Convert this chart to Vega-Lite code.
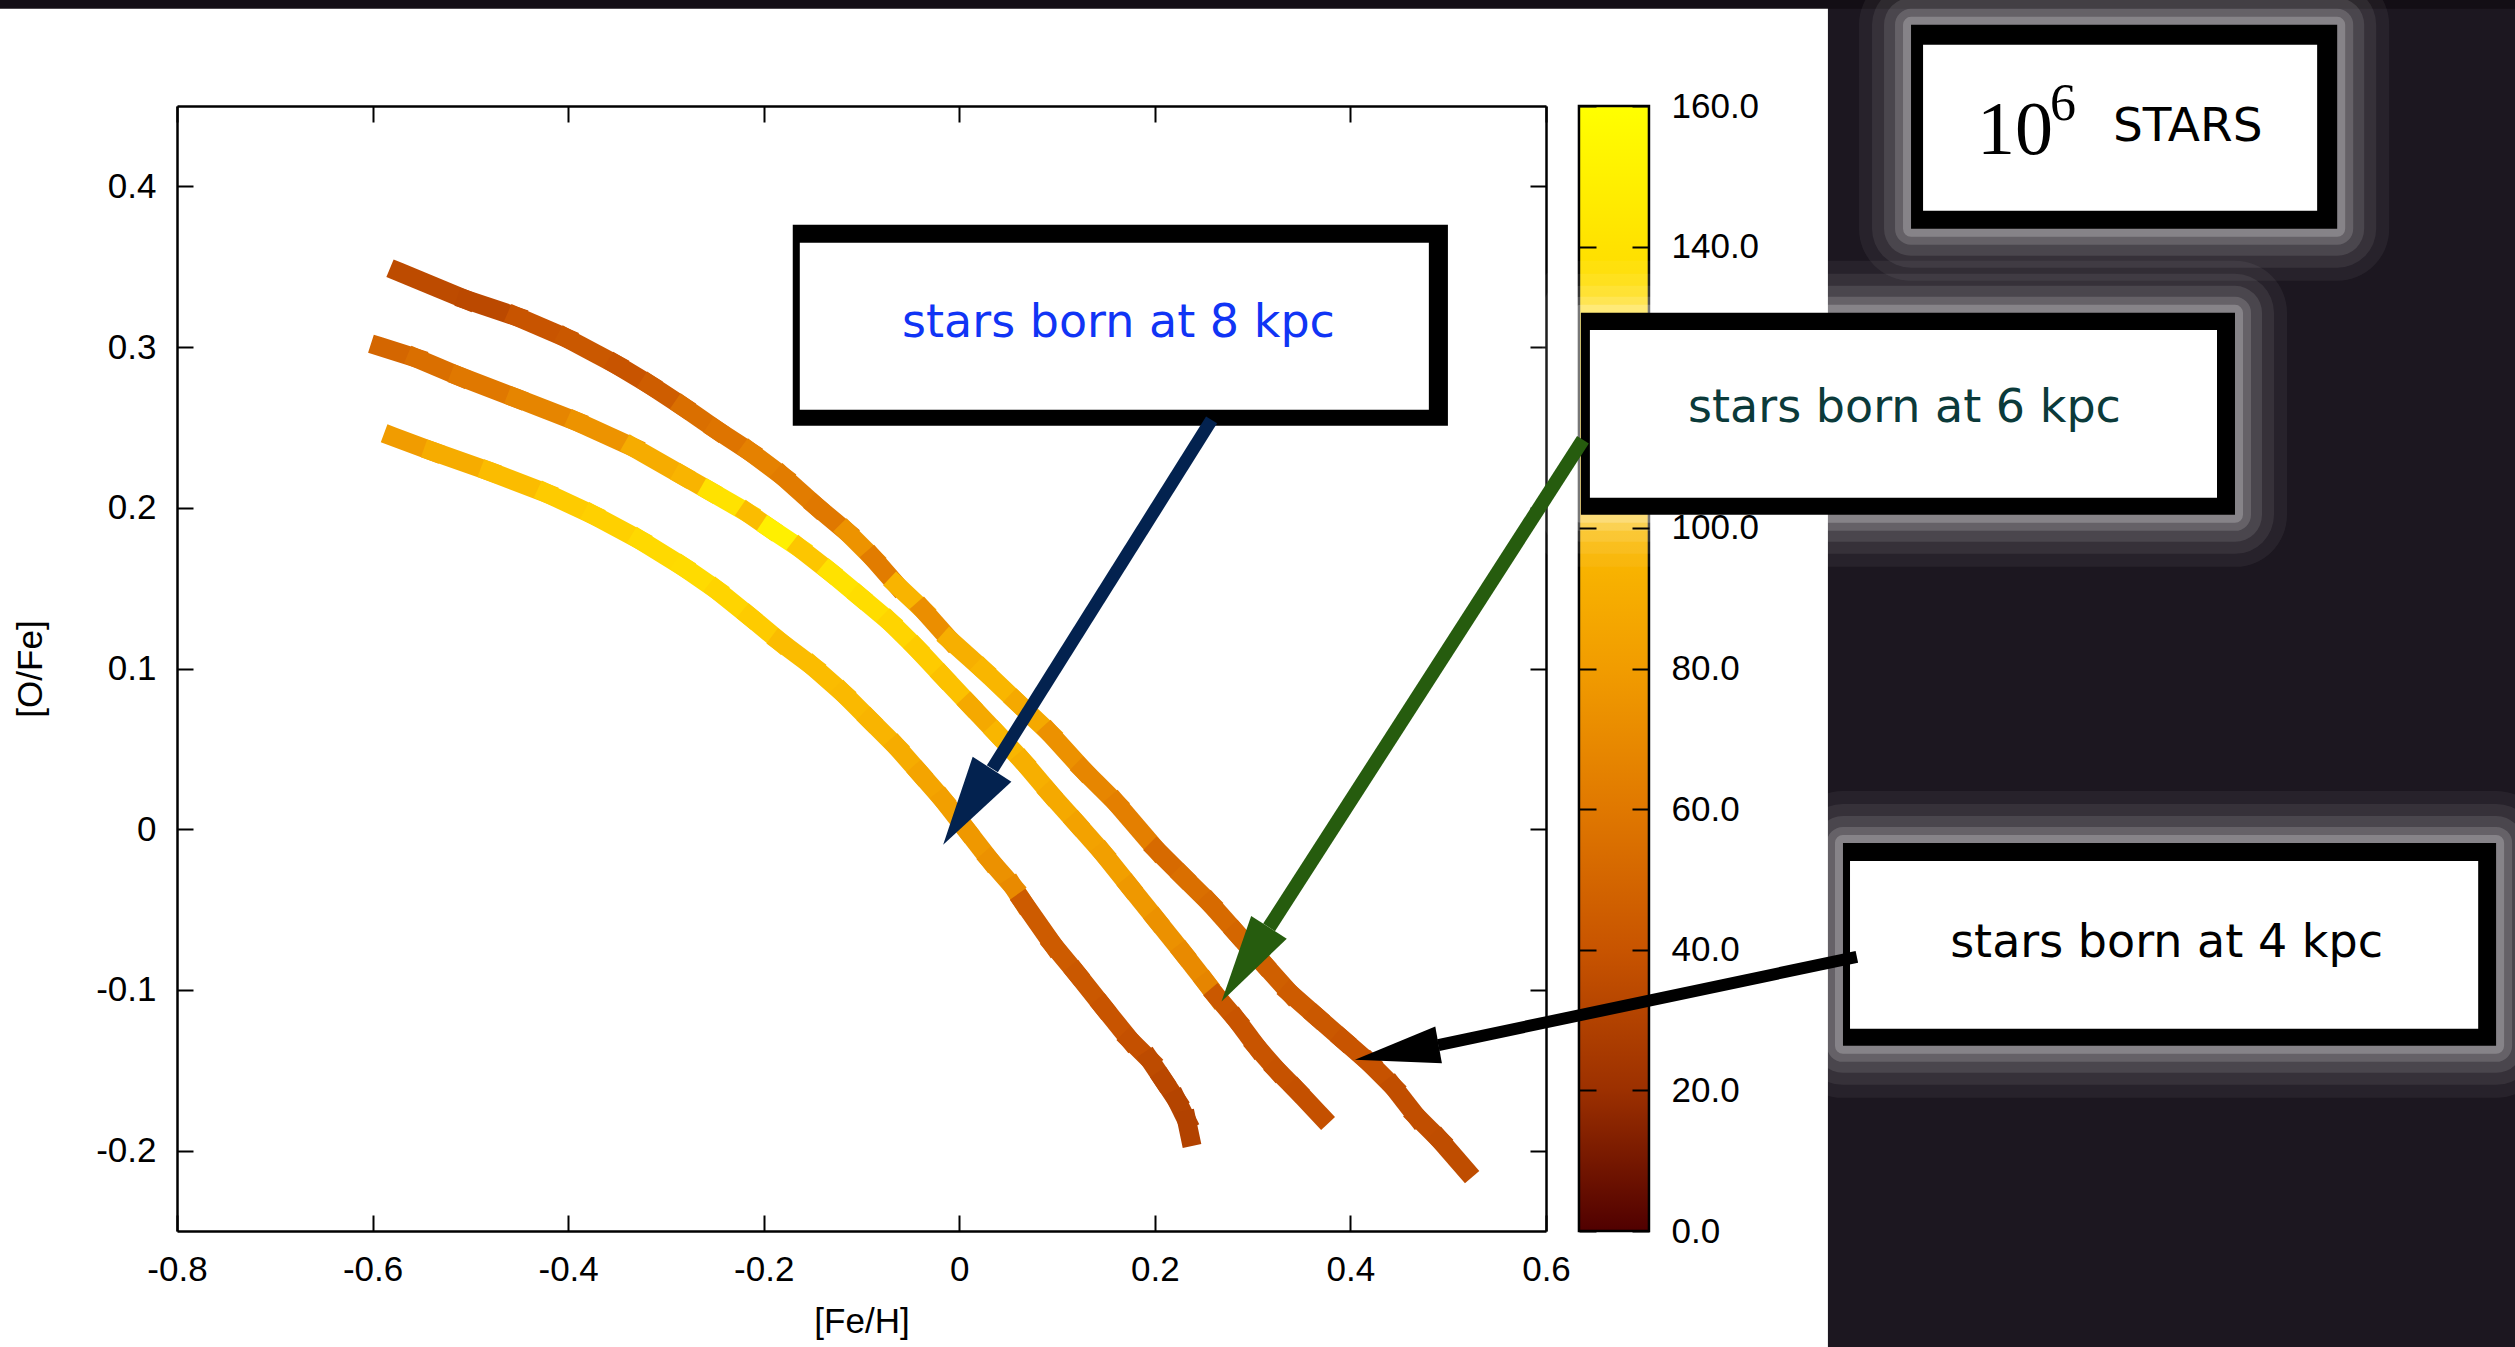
{
  "$schema": "https://vega.github.io/schema/vega-lite/v6.json",
  "width": 1369,
  "height": 1125,
  "autosize": {"type": "none"},
  "padding": {"left": 177, "top": 106, "right": 969, "bottom": 116},
  "background": "#ffffff",
  "config": {
    "view": {"stroke": null},
    "font": "Liberation Sans",
    "axis": {
      "grid": false,
      "labelFont": "Liberation Sans",
      "labelFontSize": 35,
      "labelColor": "#000000",
      "tickColor": "#000000",
      "tickWidth": 2,
      "domainColor": "#000000",
      "domainWidth": 2.5,
      "titleFont": "Liberation Sans",
      "titleFontSize": 35,
      "titleFontWeight": "normal",
      "titleColor": "#000000",
      "labelFlush": false,
      "labelOverlap": false
    }
  },
  "datasets": {
    "curves": [
      {"curve": "A", "feh": -0.5732, "ofe": 0.3468, "c": 35},
      {"curve": "A", "feh": -0.504, "ofe": 0.3294, "c": 34},
      {"curve": "A", "feh": -0.4529, "ofe": 0.319, "c": 40},
      {"curve": "A", "feh": -0.4017, "ofe": 0.3056, "c": 42},
      {"curve": "A", "feh": -0.3506, "ofe": 0.289, "c": 40},
      {"curve": "A", "feh": -0.3165, "ofe": 0.2766, "c": 45},
      {"curve": "A", "feh": -0.2825, "ofe": 0.263, "c": 55},
      {"curve": "A", "feh": -0.2483, "ofe": 0.2485, "c": 58},
      {"curve": "A", "feh": -0.2142, "ofe": 0.235, "c": 65},
      {"curve": "A", "feh": -0.1802, "ofe": 0.2195, "c": 62},
      {"curve": "A", "feh": -0.146, "ofe": 0.2008, "c": 60},
      {"curve": "A", "feh": -0.1153, "ofe": 0.1852, "c": 75},
      {"curve": "A", "feh": -0.0881, "ofe": 0.1687, "c": 62},
      {"curve": "A", "feh": -0.0642, "ofe": 0.152, "c": 95},
      {"curve": "A", "feh": -0.037, "ofe": 0.1365, "c": 72},
      {"curve": "A", "feh": -0.0097, "ofe": 0.1178, "c": 92},
      {"curve": "A", "feh": 0.0244, "ofe": 0.0992, "c": 96},
      {"curve": "A", "feh": 0.0585, "ofe": 0.0794, "c": 88},
      {"curve": "A", "feh": 0.0926, "ofe": 0.0598, "c": 74},
      {"curve": "A", "feh": 0.1267, "ofe": 0.0369, "c": 68},
      {"curve": "A", "feh": 0.1608, "ofe": 0.0162, "c": 64},
      {"curve": "A", "feh": 0.2017, "ofe": -0.0129, "c": 52},
      {"curve": "A", "feh": 0.229, "ofe": -0.0295, "c": 55},
      {"curve": "A", "feh": 0.2563, "ofe": -0.046, "c": 52},
      {"curve": "A", "feh": 0.2836, "ofe": -0.0647, "c": 50},
      {"curve": "A", "feh": 0.3108, "ofe": -0.0834, "c": 46},
      {"curve": "A", "feh": 0.3381, "ofe": -0.102, "c": 44},
      {"curve": "A", "feh": 0.3654, "ofe": -0.1166, "c": 42},
      {"curve": "A", "feh": 0.3926, "ofe": -0.1311, "c": 40},
      {"curve": "A", "feh": 0.4199, "ofe": -0.1456, "c": 39},
      {"curve": "A", "feh": 0.4437, "ofe": -0.1601, "c": 37},
      {"curve": "A", "feh": 0.4676, "ofe": -0.1788, "c": 37},
      {"curve": "A", "feh": 0.4915, "ofe": -0.1933, "c": 36},
      {"curve": "A", "feh": 0.5181, "ofe": -0.212, "c": 36},
      {"curve": "B", "feh": -0.5924, "ofe": 0.3003, "c": 50},
      {"curve": "B", "feh": -0.5551, "ofe": 0.2931, "c": 55},
      {"curve": "B", "feh": -0.5108, "ofe": 0.2817, "c": 60},
      {"curve": "B", "feh": -0.4529, "ofe": 0.2682, "c": 67},
      {"curve": "B", "feh": -0.3915, "ofe": 0.2537, "c": 75},
      {"curve": "B", "feh": -0.3336, "ofe": 0.2377, "c": 90},
      {"curve": "B", "feh": -0.2825, "ofe": 0.2199, "c": 95},
      {"curve": "B", "feh": -0.2551, "ofe": 0.2104, "c": 140},
      {"curve": "B", "feh": -0.216, "ofe": 0.1967, "c": 100},
      {"curve": "B", "feh": -0.1938, "ofe": 0.1873, "c": 150},
      {"curve": "B", "feh": -0.1631, "ofe": 0.1749, "c": 110},
      {"curve": "B", "feh": -0.1324, "ofe": 0.1603, "c": 140},
      {"curve": "B", "feh": -0.1017, "ofe": 0.1448, "c": 135},
      {"curve": "B", "feh": -0.0711, "ofe": 0.1292, "c": 125},
      {"curve": "B", "feh": -0.0437, "ofe": 0.1127, "c": 115},
      {"curve": "B", "feh": -0.0165, "ofe": 0.095, "c": 105},
      {"curve": "B", "feh": 0.0108, "ofe": 0.0774, "c": 88},
      {"curve": "B", "feh": 0.0381, "ofe": 0.0598, "c": 96},
      {"curve": "B", "feh": 0.0653, "ofe": 0.0421, "c": 92},
      {"curve": "B", "feh": 0.0926, "ofe": 0.0224, "c": 88},
      {"curve": "B", "feh": 0.1199, "ofe": 0.0038, "c": 84},
      {"curve": "B", "feh": 0.1471, "ofe": -0.0149, "c": 82},
      {"curve": "B", "feh": 0.1744, "ofe": -0.0357, "c": 78},
      {"curve": "B", "feh": 0.2017, "ofe": -0.0564, "c": 74},
      {"curve": "B", "feh": 0.229, "ofe": -0.0771, "c": 70},
      {"curve": "B", "feh": 0.2529, "ofe": -0.0958, "c": 67},
      {"curve": "B", "feh": 0.2631, "ofe": -0.104, "c": 42},
      {"curve": "B", "feh": 0.2836, "ofe": -0.1186, "c": 40},
      {"curve": "B", "feh": 0.304, "ofe": -0.1353, "c": 40},
      {"curve": "B", "feh": 0.3245, "ofe": -0.1497, "c": 39},
      {"curve": "B", "feh": 0.3449, "ofe": -0.1622, "c": 38},
      {"curve": "B", "feh": 0.3705, "ofe": -0.1788, "c": 38},
      {"curve": "C", "feh": -0.5791, "ofe": 0.2443, "c": 80},
      {"curve": "C", "feh": -0.5382, "ofe": 0.235, "c": 90},
      {"curve": "C", "feh": -0.4802, "ofe": 0.2226, "c": 100},
      {"curve": "C", "feh": -0.4222, "ofe": 0.2091, "c": 115},
      {"curve": "C", "feh": -0.3745, "ofe": 0.1956, "c": 120},
      {"curve": "C", "feh": -0.3267, "ofe": 0.18, "c": 130},
      {"curve": "C", "feh": -0.2825, "ofe": 0.1634, "c": 132},
      {"curve": "C", "feh": -0.2483, "ofe": 0.149, "c": 125},
      {"curve": "C", "feh": -0.2142, "ofe": 0.1323, "c": 115},
      {"curve": "C", "feh": -0.1836, "ofe": 0.1168, "c": 100},
      {"curve": "C", "feh": -0.1495, "ofe": 0.1012, "c": 100},
      {"curve": "C", "feh": -0.1188, "ofe": 0.0847, "c": 98},
      {"curve": "C", "feh": -0.0915, "ofe": 0.068, "c": 95},
      {"curve": "C", "feh": -0.0642, "ofe": 0.0514, "c": 90},
      {"curve": "C", "feh": -0.0404, "ofe": 0.0349, "c": 85},
      {"curve": "C", "feh": -0.0165, "ofe": 0.0183, "c": 82},
      {"curve": "C", "feh": 0.0074, "ofe": -0.0004, "c": 78},
      {"curve": "C", "feh": 0.0312, "ofe": -0.0191, "c": 74},
      {"curve": "C", "feh": 0.0551, "ofe": -0.0357, "c": 70},
      {"curve": "C", "feh": 0.0652, "ofe": -0.0453, "c": 44},
      {"curve": "C", "feh": 0.096, "ofe": -0.072, "c": 44},
      {"curve": "C", "feh": 0.1199, "ofe": -0.0896, "c": 42},
      {"curve": "C", "feh": 0.1471, "ofe": -0.1104, "c": 40},
      {"curve": "C", "feh": 0.1744, "ofe": -0.1311, "c": 38},
      {"curve": "C", "feh": 0.1949, "ofe": -0.1435, "c": 35},
      {"curve": "C", "feh": 0.2086, "ofe": -0.156, "c": 33},
      {"curve": "C", "feh": 0.2222, "ofe": -0.1684, "c": 31},
      {"curve": "C", "feh": 0.2324, "ofe": -0.1809, "c": 30},
      {"curve": "C", "feh": 0.236, "ofe": -0.1913, "c": 30}
    ]
  },
  "resolve": {"axis": {"x": "independent", "y": "independent"}},
  "layer": [
    {
      "data": {"values": [{}]},
      "mark": {"type": "rect", "fill": "#1c1720"},
      "encoding": {
        "x": {"datum": 0.8883, "type": "quantitative", "axis": null},
        "x2": {"datum": 2.5},
        "y": {"datum": -1, "type": "quantitative", "axis": null},
        "y2": {"datum": 1}
      }
    },
    {
      "data": {"values": [{}]},
      "mark": {"type": "rect", "fill": "#130e15"},
      "encoding": {
        "x": {"datum": -2, "type": "quantitative", "axis": null},
        "x2": {"datum": 2.5},
        "y": {"datum": 0.5105, "type": "quantitative", "axis": null},
        "y2": {"datum": 1}
      }
    },
    {
      "data": {"name": "curves"},
      "transform": [
        {
          "window": [
            {"op": "lead", "field": "feh", "as": "feh2"},
            {"op": "lead", "field": "ofe", "as": "ofe2"}
          ],
          "groupby": ["curve"],
          "sort": [{"field": "feh", "order": "ascending"}]
        },
        {"filter": "datum.feh2 != null"}
      ],
      "mark": {"type": "rule", "strokeWidth": 19, "strokeCap": "square"},
      "encoding": {
        "x": {
          "field": "feh",
          "type": "quantitative",
          "scale": {"domain": [-0.8, 0.6], "nice": false, "zero": false},
          "axis": {
            "orient": "bottom",
            "values": [-0.8, -0.6, -0.4, -0.2, 0, 0.2, 0.4, 0.6],
            "labelExpr": "replace(format(datum.value, '.1~f'), '\u2212', '-')",
            "tickSize": -16,
            "labelPadding": 37,
            "title": "[Fe/H]",
            "titleX": 684.5,
            "titleY": 101,
            "titleAlign": "center",
            "titleBaseline": "alphabetic"
          }
        },
        "x2": {"field": "feh2"},
        "y": {
          "field": "ofe",
          "type": "quantitative",
          "scale": {"domain": [-0.25, 0.45], "nice": false, "zero": false},
          "axis": {
            "orient": "left",
            "values": [-0.2, -0.1, 0, 0.1, 0.2, 0.3, 0.4],
            "labelExpr": "replace(format(datum.value, '.1~f'), '\u2212', '-')",
            "tickSize": -16,
            "labelPadding": 37,
            "title": "[O/Fe]",
            "titleX": -136,
            "titleY": 562.5,
            "titleAngle": -90,
            "titleAlign": "center",
            "titleBaseline": "alphabetic"
          }
        },
        "y2": {"field": "ofe2"},
        "color": {
          "field": "c",
          "type": "quantitative",
          "scale": {
            "domain": [0, 20, 40, 60, 80, 100, 120, 140, 160],
            "range": ["#500000", "#9c3000", "#c85400", "#e07800", "#f19c00", "#fbbc00", "#ffd000", "#ffe200", "#ffff00"]
          },
          "legend": null
        }
      }
    },
    {
      "data": {"name": "curves"},
      "mark": {"type": "point", "opacity": 0},
      "encoding": {
        "x": {
          "field": "feh",
          "type": "quantitative",
          "axis": {"orient": "top", "values": [-0.8, -0.6, -0.4, -0.2, 0, 0.2, 0.4, 0.6], "labels": false, "tickSize": -16, "title": null}
        },
        "y": {
          "field": "ofe",
          "type": "quantitative",
          "axis": {"orient": "right", "values": [-0.2, -0.1, 0, 0.1, 0.2, 0.3, 0.4], "labels": false, "tickSize": -16, "title": null}
        }
      }
    },
    {
      "data": {"values": [{}]},
      "mark": {
        "type": "rect",
        "fill": {
          "gradient": "linear",
          "x1": 0, "y1": 1, "x2": 0, "y2": 0,
          "stops": [
            {"offset": 0, "color": "#500000"},
            {"offset": 0.125, "color": "#9c3000"},
            {"offset": 0.25, "color": "#c85400"},
            {"offset": 0.375, "color": "#e07800"},
            {"offset": 0.5, "color": "#f19c00"},
            {"offset": 0.625, "color": "#fbbc00"},
            {"offset": 0.75, "color": "#ffd000"},
            {"offset": 0.875, "color": "#ffe200"},
            {"offset": 1, "color": "#ffff00"}
          ]
        },
        "stroke": "#000000",
        "strokeWidth": 2.5
      },
      "encoding": {
        "x": {"datum": 0.6337, "type": "quantitative", "axis": null},
        "x2": {"datum": 0.7053},
        "y": {"datum": -0.25, "type": "quantitative", "axis": null},
        "y2": {"datum": 0.45}
      }
    },
    {
      "data": {"name": "curves"},
      "mark": {"type": "point", "opacity": 0},
      "encoding": {
        "x": {"field": "feh", "type": "quantitative", "axis": null},
        "y": {
          "field": "ofe",
          "type": "quantitative",
          "axis": {
            "orient": "right",
            "offset": 103,
            "values": [-0.25, -0.1625, -0.075, 0.0125, 0.1, 0.1875, 0.3625, 0.45],
            "labelExpr": "format((datum.value + 0.25) / 0.7 * 160, '.1f')",
            "tickSize": -17,
            "labelPadding": 39,
            "labelAlign": "left",
            "domain": false,
            "title": null,
            "zindex": 1
          }
        }
      }
    },
    {
      "data": {"name": "curves"},
      "mark": {"type": "point", "opacity": 0},
      "encoding": {
        "x": {"field": "feh", "type": "quantitative", "axis": null},
        "y": {
          "field": "ofe",
          "type": "quantitative",
          "axis": {
            "orient": "left",
            "offset": -1402,
            "values": [-0.25, -0.1625, -0.075, 0.0125, 0.1, 0.1875, 0.3625, 0.45],
            "labels": false,
            "tickSize": -17,
            "domain": false,
            "title": null,
            "zindex": 1
          }
        }
      }
    },
    {
      "data": {"values": [{}]},
      "mark": {"type": "rect", "fillOpacity": 0, "stroke": "#ffffff", "strokeWidth": 104, "strokeOpacity": 0.05, "strokeJoin": "round"},
      "encoding": {"x": {"datum": 0.9733, "type": "quantitative", "axis": null}, "x2": {"datum": 1.4091}, "y": {"datum": 0.3736, "type": "quantitative", "axis": null}, "y2": {"datum": 0.5005}}
    },
    {
      "data": {"values": [{}]},
      "mark": {"type": "rect", "fillOpacity": 0, "stroke": "#ffffff", "strokeWidth": 78, "strokeOpacity": 0.07, "strokeJoin": "round"},
      "encoding": {"x": {"datum": 0.9733, "type": "quantitative", "axis": null}, "x2": {"datum": 1.4091}, "y": {"datum": 0.3736, "type": "quantitative", "axis": null}, "y2": {"datum": 0.5005}}
    },
    {
      "data": {"values": [{}]},
      "mark": {"type": "rect", "fillOpacity": 0, "stroke": "#ffffff", "strokeWidth": 54, "strokeOpacity": 0.1, "strokeJoin": "round"},
      "encoding": {"x": {"datum": 0.9733, "type": "quantitative", "axis": null}, "x2": {"datum": 1.4091}, "y": {"datum": 0.3736, "type": "quantitative", "axis": null}, "y2": {"datum": 0.5005}}
    },
    {
      "data": {"values": [{}]},
      "mark": {"type": "rect", "fillOpacity": 0, "stroke": "#ffffff", "strokeWidth": 32, "strokeOpacity": 0.15, "strokeJoin": "round"},
      "encoding": {"x": {"datum": 0.9733, "type": "quantitative", "axis": null}, "x2": {"datum": 1.4091}, "y": {"datum": 0.3736, "type": "quantitative", "axis": null}, "y2": {"datum": 0.5005}}
    },
    {
      "data": {"values": [{}]},
      "mark": {"type": "rect", "fillOpacity": 0, "stroke": "#ffffff", "strokeWidth": 16, "strokeOpacity": 0.22, "strokeJoin": "round"},
      "encoding": {"x": {"datum": 0.9733, "type": "quantitative", "axis": null}, "x2": {"datum": 1.4091}, "y": {"datum": 0.3736, "type": "quantitative", "axis": null}, "y2": {"datum": 0.5005}}
    },
    {
      "data": {"values": [{}]},
      "mark": {"type": "rect", "fillOpacity": 0, "stroke": "#ffffff", "strokeWidth": 104, "strokeOpacity": 0.05, "strokeJoin": "round"},
      "encoding": {"x": {"datum": 0.6357, "type": "quantitative", "axis": null}, "x2": {"datum": 1.3046}, "y": {"datum": 0.1956, "type": "quantitative", "axis": null}, "y2": {"datum": 0.3213}}
    },
    {
      "data": {"values": [{}]},
      "mark": {"type": "rect", "fillOpacity": 0, "stroke": "#ffffff", "strokeWidth": 78, "strokeOpacity": 0.07, "strokeJoin": "round"},
      "encoding": {"x": {"datum": 0.6357, "type": "quantitative", "axis": null}, "x2": {"datum": 1.3046}, "y": {"datum": 0.1956, "type": "quantitative", "axis": null}, "y2": {"datum": 0.3213}}
    },
    {
      "data": {"values": [{}]},
      "mark": {"type": "rect", "fillOpacity": 0, "stroke": "#ffffff", "strokeWidth": 54, "strokeOpacity": 0.1, "strokeJoin": "round"},
      "encoding": {"x": {"datum": 0.6357, "type": "quantitative", "axis": null}, "x2": {"datum": 1.3046}, "y": {"datum": 0.1956, "type": "quantitative", "axis": null}, "y2": {"datum": 0.3213}}
    },
    {
      "data": {"values": [{}]},
      "mark": {"type": "rect", "fillOpacity": 0, "stroke": "#ffffff", "strokeWidth": 32, "strokeOpacity": 0.15, "strokeJoin": "round"},
      "encoding": {"x": {"datum": 0.6357, "type": "quantitative", "axis": null}, "x2": {"datum": 1.3046}, "y": {"datum": 0.1956, "type": "quantitative", "axis": null}, "y2": {"datum": 0.3213}}
    },
    {
      "data": {"values": [{}]},
      "mark": {"type": "rect", "fillOpacity": 0, "stroke": "#ffffff", "strokeWidth": 16, "strokeOpacity": 0.22, "strokeJoin": "round"},
      "encoding": {"x": {"datum": 0.6357, "type": "quantitative", "axis": null}, "x2": {"datum": 1.3046}, "y": {"datum": 0.1956, "type": "quantitative", "axis": null}, "y2": {"datum": 0.3213}}
    },
    {
      "data": {"values": [{}]},
      "mark": {"type": "rect", "fillOpacity": 0, "stroke": "#ffffff", "strokeWidth": 104, "strokeOpacity": 0.05, "strokeJoin": "round"},
      "encoding": {"x": {"datum": 0.9037, "type": "quantitative", "axis": null}, "x2": {"datum": 1.5716}, "y": {"datum": -0.1348, "type": "quantitative", "axis": null}, "y2": {"datum": -0.0085}}
    },
    {
      "data": {"values": [{}]},
      "mark": {"type": "rect", "fillOpacity": 0, "stroke": "#ffffff", "strokeWidth": 78, "strokeOpacity": 0.07, "strokeJoin": "round"},
      "encoding": {"x": {"datum": 0.9037, "type": "quantitative", "axis": null}, "x2": {"datum": 1.5716}, "y": {"datum": -0.1348, "type": "quantitative", "axis": null}, "y2": {"datum": -0.0085}}
    },
    {
      "data": {"values": [{}]},
      "mark": {"type": "rect", "fillOpacity": 0, "stroke": "#ffffff", "strokeWidth": 54, "strokeOpacity": 0.1, "strokeJoin": "round"},
      "encoding": {"x": {"datum": 0.9037, "type": "quantitative", "axis": null}, "x2": {"datum": 1.5716}, "y": {"datum": -0.1348, "type": "quantitative", "axis": null}, "y2": {"datum": -0.0085}}
    },
    {
      "data": {"values": [{}]},
      "mark": {"type": "rect", "fillOpacity": 0, "stroke": "#ffffff", "strokeWidth": 32, "strokeOpacity": 0.15, "strokeJoin": "round"},
      "encoding": {"x": {"datum": 0.9037, "type": "quantitative", "axis": null}, "x2": {"datum": 1.5716}, "y": {"datum": -0.1348, "type": "quantitative", "axis": null}, "y2": {"datum": -0.0085}}
    },
    {
      "data": {"values": [{}]},
      "mark": {"type": "rect", "fillOpacity": 0, "stroke": "#ffffff", "strokeWidth": 16, "strokeOpacity": 0.22, "strokeJoin": "round"},
      "encoding": {"x": {"datum": 0.9037, "type": "quantitative", "axis": null}, "x2": {"datum": 1.5716}, "y": {"datum": -0.1348, "type": "quantitative", "axis": null}, "y2": {"datum": -0.0085}}
    },
    {
      "data": {"values": [{}]},
      "mark": {"type": "rect", "fill": "#000000"},
      "encoding": {"x": {"datum": -0.1703, "type": "quantitative", "axis": null}, "x2": {"datum": 0.4997}, "y": {"datum": 0.251, "type": "quantitative", "axis": null}, "y2": {"datum": 0.3761}}
    },
    {
      "data": {"values": [{}]},
      "mark": {"type": "rect", "fill": "#ffffff"},
      "encoding": {"x": {"datum": -0.1631, "type": "quantitative", "axis": null}, "x2": {"datum": 0.4802}, "y": {"datum": 0.261, "type": "quantitative", "axis": null}, "y2": {"datum": 0.3649}}
    },
    {
      "data": {"values": [{}]},
      "mark": {"type": "rect", "fill": "#000000"},
      "encoding": {"x": {"datum": 0.6357, "type": "quantitative", "axis": null}, "x2": {"datum": 1.3046}, "y": {"datum": 0.1956, "type": "quantitative", "axis": null}, "y2": {"datum": 0.3213}}
    },
    {
      "data": {"values": [{}]},
      "mark": {"type": "rect", "fill": "#ffffff"},
      "encoding": {"x": {"datum": 0.6449, "type": "quantitative", "axis": null}, "x2": {"datum": 1.2862}, "y": {"datum": 0.2062, "type": "quantitative", "axis": null}, "y2": {"datum": 0.3107}}
    },
    {
      "data": {"values": [{}]},
      "mark": {"type": "rect", "fill": "#000000"},
      "encoding": {"x": {"datum": 0.9037, "type": "quantitative", "axis": null}, "x2": {"datum": 1.5716}, "y": {"datum": -0.1348, "type": "quantitative", "axis": null}, "y2": {"datum": -0.0085}}
    },
    {
      "data": {"values": [{}]},
      "mark": {"type": "rect", "fill": "#ffffff"},
      "encoding": {"x": {"datum": 0.9109, "type": "quantitative", "axis": null}, "x2": {"datum": 1.5533}, "y": {"datum": -0.1242, "type": "quantitative", "axis": null}, "y2": {"datum": -0.0197}}
    },
    {
      "data": {"values": [{}]},
      "mark": {"type": "rect", "fill": "#000000"},
      "encoding": {"x": {"datum": 0.9733, "type": "quantitative", "axis": null}, "x2": {"datum": 1.4091}, "y": {"datum": 0.3736, "type": "quantitative", "axis": null}, "y2": {"datum": 0.5005}}
    },
    {
      "data": {"values": [{}]},
      "mark": {"type": "rect", "fill": "#ffffff"},
      "encoding": {"x": {"datum": 0.9856, "type": "quantitative", "axis": null}, "x2": {"datum": 1.3886}, "y": {"datum": 0.3848, "type": "quantitative", "axis": null}, "y2": {"datum": 0.4881}}
    },
    {
      "data": {"values": [{}]},
      "mark": {"type": "text", "text": "stars born at 8 kpc", "font": "DejaVu Sans", "fontSize": 46, "align": "center", "baseline": "alphabetic", "color": "#1034f5"},
      "encoding": {"x": {"datum": 0.1628, "type": "quantitative", "axis": null}, "y": {"datum": 0.3063, "type": "quantitative", "axis": null}}
    },
    {
      "data": {"values": [{}]},
      "mark": {"type": "text", "text": "stars born at 6 kpc", "font": "DejaVu Sans", "fontSize": 46, "align": "center", "baseline": "alphabetic", "color": "#0b3a3a"},
      "encoding": {"x": {"datum": 0.9666, "type": "quantitative", "axis": null}, "y": {"datum": 0.2534, "type": "quantitative", "axis": null}}
    },
    {
      "data": {"values": [{}]},
      "mark": {"type": "text", "text": "stars born at 4 kpc", "font": "DejaVu Sans", "fontSize": 46, "align": "center", "baseline": "alphabetic", "color": "#000000"},
      "encoding": {"x": {"datum": 1.2346, "type": "quantitative", "axis": null}, "y": {"datum": -0.0795, "type": "quantitative", "axis": null}}
    },
    {
      "data": {"values": [{}]},
      "mark": {"type": "text", "text": "10", "font": "Liberation Serif", "fontSize": 76, "align": "left", "baseline": "alphabetic", "color": "#000000"},
      "encoding": {"x": {"datum": 1.0408, "type": "quantitative", "axis": null}, "y": {"datum": 0.4201, "type": "quantitative", "axis": null}}
    },
    {
      "data": {"values": [{}]},
      "mark": {"type": "text", "text": "6", "font": "Liberation Serif", "fontSize": 52, "align": "left", "baseline": "alphabetic", "color": "#000000"},
      "encoding": {"x": {"datum": 1.1154, "type": "quantitative", "axis": null}, "y": {"datum": 0.4413, "type": "quantitative", "axis": null}}
    },
    {
      "data": {"values": [{}]},
      "mark": {"type": "text", "text": "STARS", "font": "DejaVu Sans", "fontSize": 47, "align": "left", "baseline": "alphabetic", "color": "#000000"},
      "encoding": {"x": {"datum": 1.1798, "type": "quantitative", "axis": null}, "y": {"datum": 0.4282, "type": "quantitative", "axis": null}}
    },
    {
      "data": {"values": [{}]},
      "mark": {"type": "rule", "color": "#03224f", "strokeWidth": 13, "strokeCap": "butt"},
      "encoding": {"x": {"datum": 0.258, "type": "quantitative", "axis": null}, "y": {"datum": 0.2547, "type": "quantitative", "axis": null}, "x2": {"datum": 0.0338}, "y2": {"datum": 0.0376}}
    },
    {
      "data": {"values": [{}]},
      "mark": {"type": "point", "shape": "M0,0L0.256,1L-0.256,1Z", "filled": true, "fill": "#03224f", "opacity": 1, "strokeWidth": 0, "size": 32400, "angle": 212.9},
      "encoding": {"x": {"datum": -0.0165, "type": "quantitative", "axis": null}, "y": {"datum": -0.0097, "type": "quantitative", "axis": null}}
    },
    {
      "data": {"values": [{}]},
      "mark": {"type": "rule", "color": "#265c0e", "strokeWidth": 14, "strokeCap": "butt"},
      "encoding": {"x": {"datum": 0.6378, "type": "quantitative", "axis": null}, "y": {"datum": 0.2423, "type": "quantitative", "axis": null}, "x2": {"datum": 0.3168}, "y2": {"datum": -0.0611}}
    },
    {
      "data": {"values": [{}]},
      "mark": {"type": "point", "shape": "M0,0L0.24,1L-0.24,1Z", "filled": true, "fill": "#265c0e", "opacity": 1, "strokeWidth": 0, "size": 30976, "angle": 212.6},
      "encoding": {"x": {"datum": 0.2682, "type": "quantitative", "axis": null}, "y": {"datum": -0.1072, "type": "quantitative", "axis": null}}
    },
    {
      "data": {"values": [{}]},
      "mark": {"type": "rule", "color": "#000000", "strokeWidth": 12, "strokeCap": "butt"},
      "encoding": {"x": {"datum": 0.9179, "type": "quantitative", "axis": null}, "y": {"datum": -0.0794, "type": "quantitative", "axis": null}, "x2": {"datum": 0.4898}, "y2": {"datum": -0.1343}}
    },
    {
      "data": {"values": [{}]},
      "mark": {"type": "point", "shape": "M0,0L0.22,1L-0.22,1Z", "filled": true, "fill": "#000000", "opacity": 1, "strokeWidth": 0, "size": 28900, "angle": 259.8},
      "encoding": {"x": {"datum": 0.4046, "type": "quantitative", "axis": null}, "y": {"datum": -0.1435, "type": "quantitative", "axis": null}}
    }
  ]
}
